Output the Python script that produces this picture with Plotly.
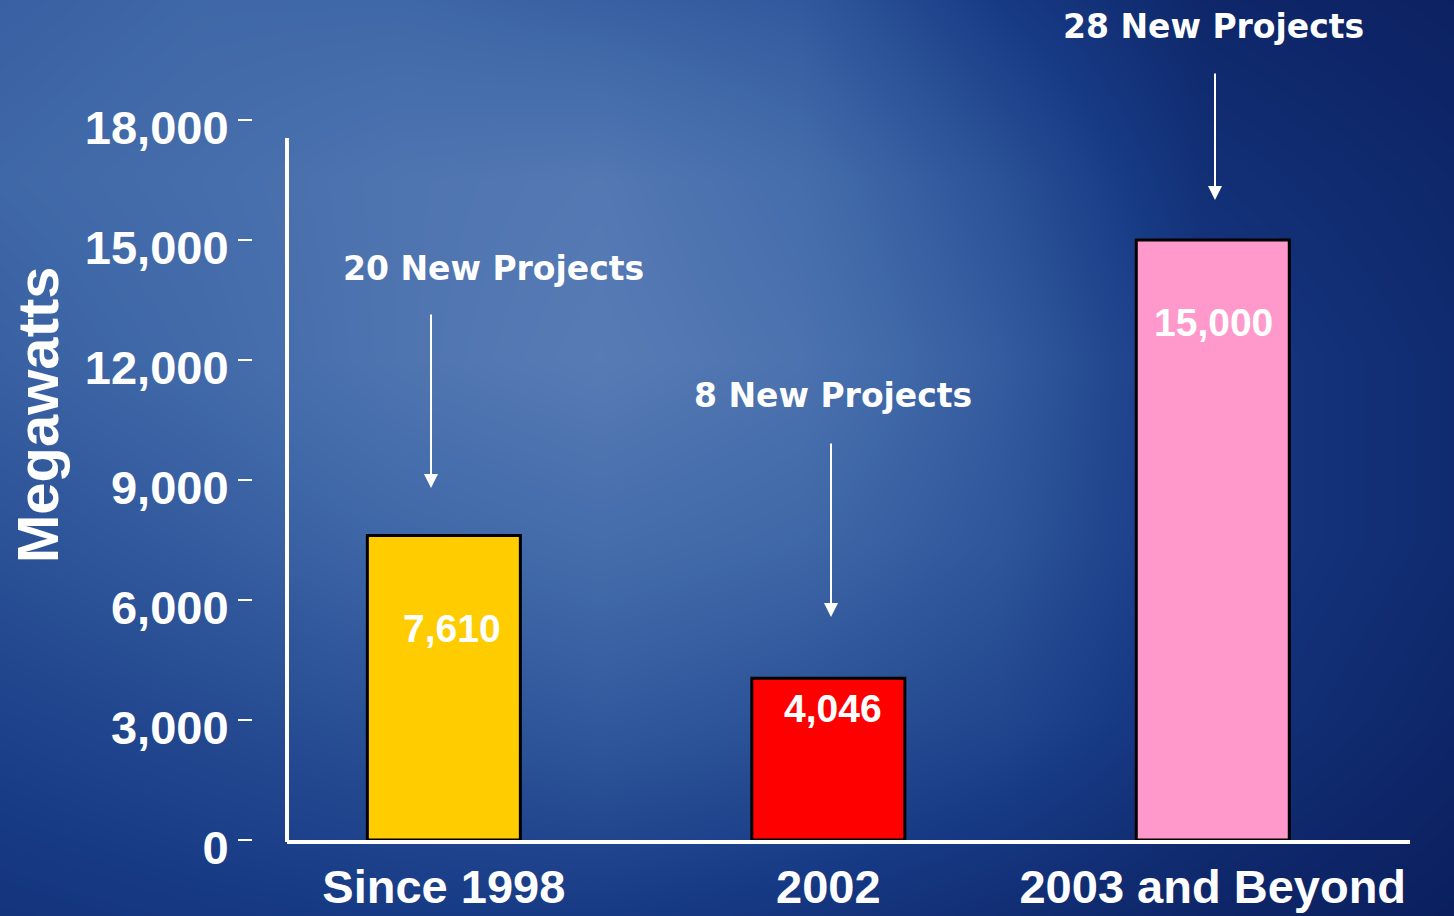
import plotly.graph_objects as go

# ---- data ----
categories = ["Since 1998", "2002", "2003 and Beyond"]
megawatts = [7610, 4046, 15000]
value_labels = ["7,610", "4,046", "15,000"]
project_counts = [20, 8, 28]
bar_colors = ["#FFCC00", "#FF0000", "#FF99CC"]
y_ticks = [0, 3000, 6000, 9000, 12000, 15000, 18000]

# background brightness grid (rows top->bottom, cols left->right)
bg_x = [0, 200, 400, 600, 800, 1000, 1200, 1454]
bg_y = [0, 180, 360, 540, 720, 916]
bg_z = [
    [0.55, 0.60, 0.60, 0.55, 0.50, 0.30, 0.15, 0.10],
    [0.60, 0.65, 0.72, 0.75, 0.65, 0.45, 0.22, 0.15],
    [0.55, 0.62, 0.72, 0.78, 0.70, 0.52, 0.28, 0.18],
    [0.45, 0.52, 0.60, 0.65, 0.60, 0.48, 0.28, 0.18],
    [0.35, 0.40, 0.45, 0.50, 0.45, 0.38, 0.24, 0.14],
    [0.25, 0.28, 0.30, 0.30, 0.26, 0.20, 0.14, 0.08],
]

W, H = 1454, 916
def px(x):
    return x / W
def py(y):
    return 1 - y / H

fig = go.Figure()

fig.add_trace(go.Heatmap(
    x=bg_x, y=bg_y, z=bg_z, zsmooth="best", showscale=False, hoverinfo="skip",
    zmin=0, zmax=1,
    colorscale=[[0, "#061550"], [0.3, "#173a85"], [0.6, "#3f68a8"], [1.0, "#7492c4"]],
    xaxis="x", yaxis="y",
))

fig.add_trace(go.Bar(
    x=categories, y=megawatts, width=0.398,
    marker=dict(color=bar_colors, line=dict(color="black", width=3)),
    xaxis="x2", yaxis="y2", hoverinfo="x+y",
))

label_font = dict(family="Liberation Sans, Arial", size=47, color="white", weight="bold")

fig.update_layout(
    template="none",
    width=W, height=H,
    margin=dict(l=0, r=0, t=0, b=0, pad=0, autoexpand=False),
    paper_bgcolor="#173a85", plot_bgcolor="rgba(0,0,0,0)",
    showlegend=False,
    xaxis=dict(domain=[0, 1], range=[0, 1454], visible=False, fixedrange=True, automargin=False),
    yaxis=dict(domain=[0, 1], range=[916, 0], visible=False, fixedrange=True, automargin=False),
    xaxis2=dict(
        type="category", categoryorder="array", categoryarray=categories,
        domain=[px(287), px(1410)], range=[-0.408, 2.513], anchor="y2",
        showline=True, linecolor="white", linewidth=4, showgrid=False, zeroline=False,
        ticks="", tickfont=label_font, ticklabelstandoff=3, automargin=False,
    ),
    yaxis2=dict(
        domain=[py(840), py(120)], range=[0, 18000], anchor="free", position=px(252),
        showline=False, showgrid=False, zeroline=False,
        tickvals=y_ticks, tickformat=",", ticks="outside", ticklen=14, tickwidth=2,
        tickcolor="white", tickfont=label_font, ticklabelstandoff=0, ticklabelshift=8,
        automargin=False,
    ),
)

# visible y axis line
fig.add_shape(type="line", xref="paper", yref="paper",
              x0=px(287), x1=px(287), y0=py(842), y1=py(138),
              line=dict(color="white", width=4))

# Megawatts title
fig.add_annotation(text="Megawatts", xref="paper", yref="paper", x=px(37), y=py(415),
                   xanchor="center", yanchor="middle",
                   textangle=-90, showarrow=False,
                   font=dict(family="Liberation Sans, Arial", size=58, color="white", weight="bold"))

# value labels inside bars
val_pos = [(452, 628), (833, 708), (1213, 322)]
for lab, (vx, vy) in zip(value_labels, val_pos):
    fig.add_annotation(text=lab, xref="paper", yref="paper", x=px(vx), y=py(vy),
                       xanchor="center", yanchor="middle", showarrow=False,
                       font=dict(family="Liberation Sans, Arial", size=39, color="white", weight="bold"))

# project annotations with arrows
proj_text_pos = [(493, 268), (833, 395), (1213, 27)]
arrow_pos = [(431, 313, 488), (831, 442, 617), (1215, 72, 200)]
for n, (tx, ty), (ax_, y_tail, y_head) in zip(project_counts, proj_text_pos, arrow_pos):
    fig.add_annotation(text=f"{n} New Projects", xref="paper", yref="paper",
                       x=px(tx), y=py(ty), xanchor="center", yanchor="middle", showarrow=False,
                       font=dict(family="DejaVu Sans, Verdana", size=33, color="white", weight="bold"))
    fig.add_annotation(text="", xref="paper", yref="paper", x=px(ax_), y=py(y_head),
                       ax=0, ay=-(y_head - y_tail), showarrow=True,
                       arrowhead=2, arrowsize=1.4, arrowwidth=2, arrowcolor="white")

fig.write_html("out.html", config={"displayModeBar": False},
               post_script="document.body.style.margin='0';document.body.style.overflow='hidden';")
